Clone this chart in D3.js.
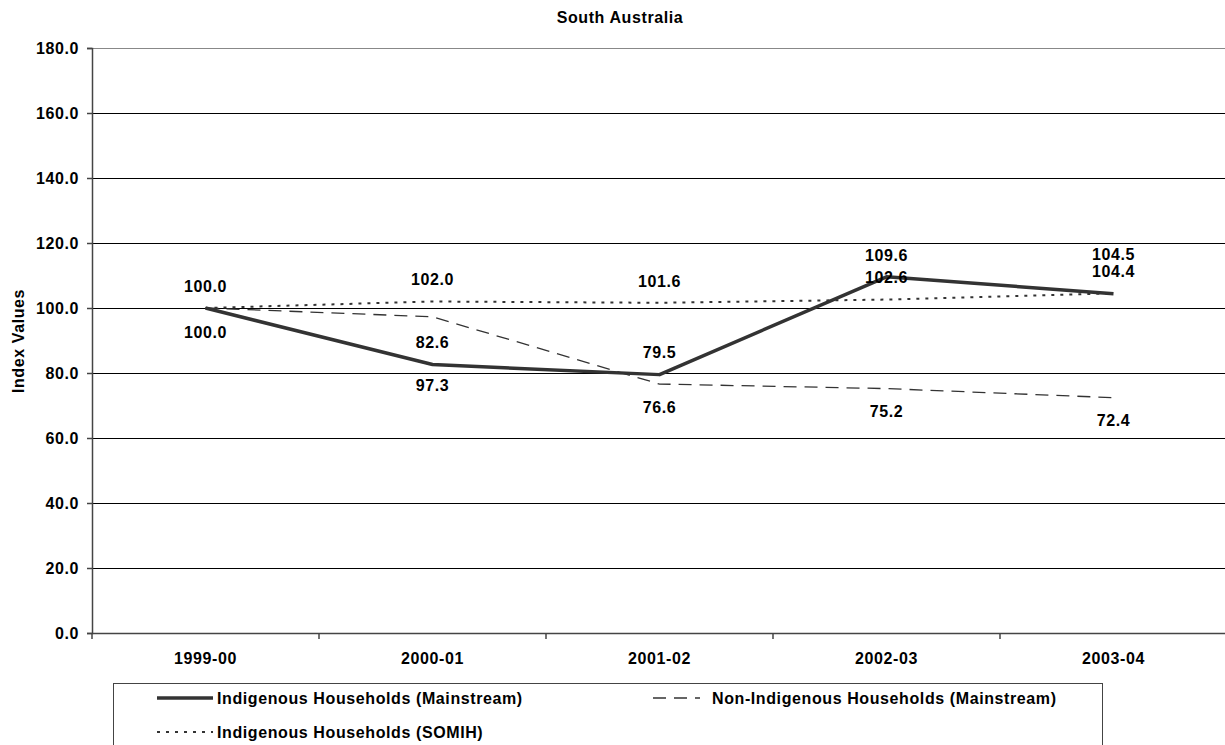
<!DOCTYPE html>
<html><head><meta charset="utf-8">
<script src="https://cdn.jsdelivr.net/npm/d3@7"></script>
<style>
body{margin:0;background:#fff;}
svg{display:block;font-family:"Liberation Sans",Arial,sans-serif;font-weight:bold;}
svg text{letter-spacing:0.6px;}
</style></head>
<body><svg id="c" width="1225" height="745"></svg>
<script>
const title = "South Australia";
const yTitle = "Index Values";
const categories = ["1999-00","2000-01","2001-02","2002-03","2003-04"];
const yTicks = [0,20,40,60,80,100,120,140,160,180];
const seriesNames = ["Indigenous Households (Mainstream)","Non-Indigenous Households (Mainstream)","Indigenous Households (SOMIH)"];
const indigMainstream = [100.0, 82.6, 79.5, 109.6, 104.4];
const nonIndigMainstream = [100.0, 97.3, 76.6, 75.2, 72.4];
const indigSOMIH = [100.0, 102.0, 101.6, 102.6, 104.5];

// label offsets (layout only)
const labelOffsets = [
  [-22,-22,-22,-22,-22],
  [24,68,23,23,23],
  [-22,-22,-22,-22,-39]
];
const styles = [
  {width:3.5, dash:null, color:"#333"},
  {width:1.3, dash:"13,8", color:"#333"},
  {width:2, dash:"3,6", color:"#333"}
];
const seriesVals = [indigMainstream, nonIndigMainstream, indigSOMIH];

const svg = d3.select("#c");
const L = 92, R = 1227, T = 48, B = 633;
const x = d3.scaleBand().domain(categories).range([L,R]);
const y = d3.scaleLinear().domain([0,180]).range([B,T]);
const FF = "Liberation Sans, Arial, sans-serif";

// gridlines
svg.append("g").selectAll("line").data(yTicks.filter(d=>d>0)).join("line")
  .attr("x1",L).attr("x2",R).attr("y1",d=>y(d)+0.5).attr("y2",d=>y(d)+0.5)
  .attr("stroke",d=>d===180?"#888":"#000").attr("stroke-width",1);

// y axis
const ya = svg.append("g").attr("transform",`translate(${L},0)`)
  .call(d3.axisLeft(y).tickValues(yTicks).tickFormat(d3.format(".1f")).tickSize(5).tickPadding(8));
ya.select(".domain").attr("stroke","#444").attr("stroke-width",1.5);
ya.selectAll(".tick line").attr("stroke","#444").attr("stroke-width",1.5);
ya.selectAll("text").attr("font-size",16).attr("font-weight","bold").attr("fill","#000")
  .attr("font-family",FF);

// x axis
const xa = svg.append("g").attr("transform",`translate(0,${B})`)
  .call(d3.axisBottom(x).tickSize(0).tickPadding(20));
xa.select(".domain").attr("stroke","#444").attr("stroke-width",1.5);
xa.selectAll("text").attr("font-size",16).attr("font-weight","bold").attr("fill","#000")
  .attr("font-family",FF);
// category boundary ticks
const bounds = categories.map(c=>x(c));
svg.append("g").selectAll("line").data(bounds).join("line")
  .attr("x1",d=>d).attr("x2",d=>d).attr("y1",B).attr("y2",B+6)
  .attr("stroke","#444").attr("stroke-width",1.5);

// lines
const line = d3.line().x((d,i)=>x(categories[i])+x.bandwidth()/2).y(d=>y(d));
seriesVals.forEach((vals,si)=>{
  svg.append("path").datum(vals).attr("d",line).attr("fill","none")
    .attr("stroke",styles[si].color).attr("stroke-width",styles[si].width)
    .attr("stroke-dasharray",styles[si].dash).attr("stroke-linejoin","round");
});
// labels (skip exact duplicates at the same spot)
const placed = new Set();
seriesVals.forEach((vals,si)=>{
  vals.forEach((v,i)=>{
    const px = x(categories[i])+x.bandwidth()/2;
    const py = y(v)+labelOffsets[si][i];
    const key = Math.round(px)+"_"+Math.round(py);
    if(placed.has(key)) return;
    placed.add(key);
    svg.append("text").attr("x",px).attr("y",py)
      .attr("dy","0.36em").attr("text-anchor","middle")
      .attr("font-size",16).attr("fill","#000")
      .text(d3.format(".1f")(v));
  });
});

// title
svg.append("text").attr("x",620).attr("y",23).attr("text-anchor","middle")
  .attr("font-size",16).text(title);
svg.append("text").attr("transform","translate(24,341) rotate(-90)")
  .attr("text-anchor","middle").attr("font-size",16).text(yTitle);

// legend
const lg = svg.append("g");
lg.append("rect").attr("x",113.5).attr("y",683.5).attr("width",989).attr("height",80)
  .attr("fill","#fff").attr("stroke","#444").attr("stroke-width",1);
const legItems = [
  {s:0, x1:157, x2:213, tx:217, y:698},
  {s:1, x1:653, x2:700, tx:712, y:698},
  {s:2, x1:157, x2:213, tx:217, y:732}
];
legItems.forEach(it=>{
  lg.append("line").attr("x1",it.x1).attr("x2",it.x2).attr("y1",it.y).attr("y2",it.y)
    .attr("stroke",styles[it.s].color).attr("stroke-width",styles[it.s].width)
    .attr("stroke-dasharray",styles[it.s].dash);
  lg.append("text").attr("x",it.tx).attr("y",it.y).attr("dy","0.36em")
    .attr("font-size",16).text(seriesNames[it.s]);
});
</script></body></html>
